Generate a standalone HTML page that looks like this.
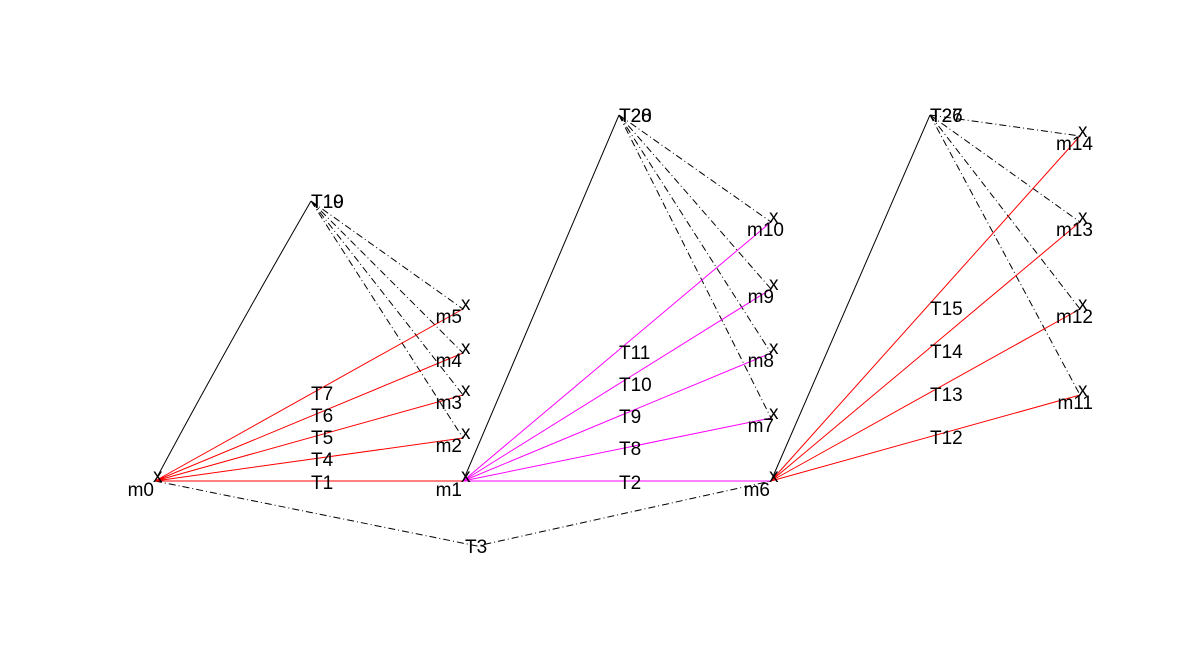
<!DOCTYPE html>
<html><head><style>body{margin:0;background:#fff}svg{display:block}text{font-family:"Liberation Sans",sans-serif;font-size:19px;fill:#000}.x{font-size:13px}</style></head><body>
<svg width="1197" height="662" xmlns="http://www.w3.org/2000/svg">
<g fill="none" stroke-width="1">
<path d="M155,481 Q225,350 311,201" stroke="#000"/>
<path d="M463,481 L619,115" stroke="#000"/>
<path d="M771,481 L930,115" stroke="#000"/>
<g stroke="#000" stroke-dasharray="7,3,1,3">
<path d="M155,481 L477,546 L771,481"/>
<path d="M311,201 L463,309 M311,201 L463,353 M311,201 L463,395 M311,201 L463,438"/>
<path d="M619,115 L771,222 M619,115 L771,289 M619,115 L771,353 M619,115 L771,418"/>
<path d="M930,115 L1080,136 M930,115 L1080,222 M930,115 L1080,309 M930,115 L1080,395"/>
</g>
<g stroke="#f00">
<path d="M155,481 L463,481 M155,481 L463,438 M155,481 L463,395 M155,481 L463,353 M155,481 L463,309"/>
<path d="M771,481 L1080,395 M771,481 L1080,309 M771,481 L1080,222 M771,481 L1080,136"/>
</g>
<g stroke="#f0f">
<path d="M463,481 L771,481 M463,481 L771,418 M463,481 L771,353 M463,481 L771,289 M463,481 L771,222"/>
</g>
</g>
<g class="x">
<text x="153" y="482">x</text><text x="461" y="482">x</text><text x="769" y="482">x</text>
<text x="461" y="310">x</text><text x="461" y="354">x</text><text x="461" y="396">x</text><text x="461" y="439">x</text>
<text x="769" y="223">x</text><text x="769" y="290">x</text><text x="769" y="354">x</text><text x="769" y="419">x</text>
<text x="1078" y="137">x</text><text x="1078" y="223">x</text><text x="1078" y="310">x</text><text x="1078" y="396">x</text>
</g>
<g text-anchor="end">
<text x="154" y="496">m0</text><text x="462" y="496">m1</text><text x="770" y="496">m6</text>
<text x="462" y="323">m5</text><text x="462" y="367">m4</text><text x="462" y="409">m3</text><text x="462" y="452">m2</text>
<text x="784" y="236">m10</text><text x="774" y="303">m9</text><text x="774" y="367">m8</text><text x="774" y="432">m7</text>
<text x="1093" y="150">m14</text><text x="1093" y="236">m13</text><text x="1093" y="323">m12</text><text x="1093" y="409">m11</text>
</g>
<text x="311" y="208">T10</text><text x="311" y="208">T19</text>
<text x="619" y="122">T20</text><text x="619" y="122">T28</text>
<text x="930" y="122">T26</text><text x="930" y="122">T27</text>
<text x="311" y="489">T1</text><text x="311" y="466">T4</text><text x="311" y="444">T5</text><text x="311" y="422">T6</text><text x="311" y="400">T7</text>
<text x="619" y="489">T2</text><text x="619" y="455">T8</text><text x="619" y="423">T9</text><text x="619" y="391">T10</text><text x="619" y="359">T11</text>
<text x="930" y="444">T12</text><text x="930" y="401">T13</text><text x="930" y="358">T14</text><text x="930" y="315">T15</text>
<text x="465" y="553">T3</text>
</svg>
</body></html>
